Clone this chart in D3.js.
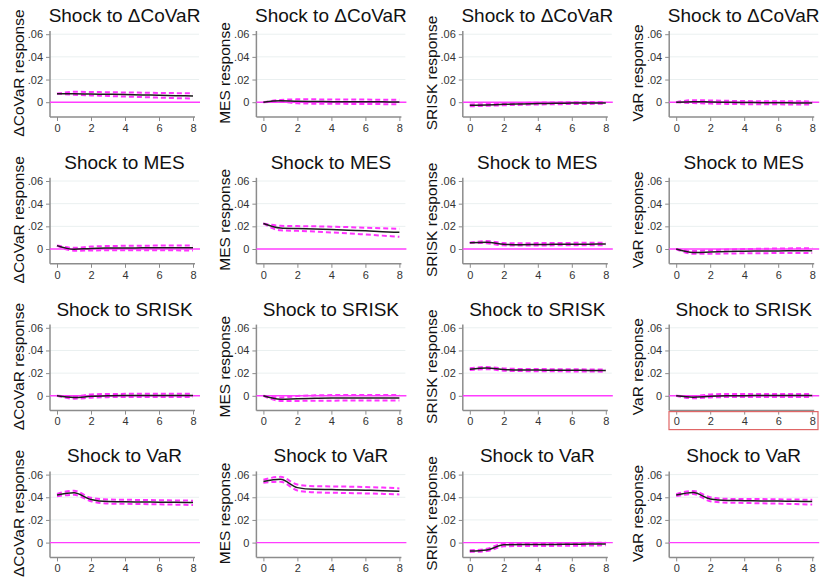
<!DOCTYPE html>
<html>
<head>
<meta charset="utf-8">
<script src="https://cdn.jsdelivr.net/npm/d3@7"></script>
<style>
  html, body { margin: 0; padding: 0; background: #ffffff; }
  svg { display: block; }
</style>
</head>
<body>
<svg id="chart" width="824" height="581"></svg>
<script>
// Impulse-response grid: rows are the shocked variable, columns the responding one.
const shockNames = ["ΔCoVaR", "MES", "SRISK", "VaR"];
const responseNames = ["ΔCoVaR", "MES", "SRISK", "VaR"];
const steps = [0, 1, 2, 3, 4, 5, 6, 7, 8];
const xTicks = [0, 2, 4, 6, 8];
const yTicks = [0, 0.02, 0.04, 0.06];
const yTickLabels = ["0", ".02", ".04", ".06"];

// Shock to ΔCoVaR: responses of ΔCoVaR, MES, SRISK, VaR
const irfCoVaR = [
  [0.0075, 0.0075, 0.0072, 0.0070, 0.0067, 0.0064, 0.0061, 0.0058, 0.0055],
  [0, 0.0012, 0.0008, 0.0006, 0.0005, 0.0004, 0.0003, 0.0003, 0.0002],
  [-0.0028, -0.0024, -0.0019, -0.0015, -0.0012, -0.0010, -0.0008, -0.0007, -0.0006],
  [0, 0.0005, 0.0002, -0.0001, -0.0003, -0.0004, -0.0005, -0.0006, -0.0007]
];
const loCoVaR = [
  [0.0075, 0.0065, 0.0060, 0.0055, 0.0050, 0.0045, 0.0040, 0.0036, 0.0032],
  [0, 0.0003, -0.0010, -0.0013, -0.0014, -0.0015, -0.0016, -0.0017, -0.0018],
  [-0.0036, -0.0032, -0.0027, -0.0023, -0.0020, -0.0018, -0.0016, -0.0015, -0.0014],
  [0, -0.0008, -0.0012, -0.0015, -0.0017, -0.0018, -0.0019, -0.0020, -0.0021]
];
const hiCoVaR = [
  [0.0075, 0.0092, 0.0090, 0.0088, 0.0086, 0.0084, 0.0082, 0.0080, 0.0078],
  [0, 0.0020, 0.0025, 0.0025, 0.0024, 0.0023, 0.0023, 0.0022, 0.0022],
  [-0.0020, -0.0016, -0.0011, -0.0007, -0.0004, -0.0002, 0.0000, 0.0001, 0.0002],
  [0, 0.0018, 0.0015, 0.0012, 0.0010, 0.0009, 0.0008, 0.0008, 0.0007]
];

// Shock to MES
const irfMES = [
  [0.0030, -0.0003, 0.0005, 0.0008, 0.0009, 0.0010, 0.0010, 0.0010, 0.0010],
  [0.0225, 0.0185, 0.0180, 0.0177, 0.0172, 0.0166, 0.0160, 0.0153, 0.0147],
  [0.0055, 0.0060, 0.0042, 0.0038, 0.0040, 0.0041, 0.0042, 0.0043, 0.0044],
  [0, -0.0030, -0.0027, -0.0023, -0.0020, -0.0018, -0.0017, -0.0016, -0.0015]
];
const loMES = [
  [0.0030, -0.0015, -0.0013, -0.0011, -0.0010, -0.0010, -0.0011, -0.0012, -0.0013],
  [0.0225, 0.0165, 0.0160, 0.0154, 0.0146, 0.0138, 0.0128, 0.0118, 0.0108],
  [0.0055, 0.0050, 0.0032, 0.0030, 0.0031, 0.0032, 0.0033, 0.0033, 0.0034],
  [0, -0.0042, -0.0042, -0.0040, -0.0038, -0.0037, -0.0036, -0.0036, -0.0036]
];
const hiMES = [
  [0.0030, 0.0010, 0.0022, 0.0026, 0.0028, 0.0029, 0.0030, 0.0030, 0.0030],
  [0.0225, 0.0205, 0.0202, 0.0200, 0.0197, 0.0193, 0.0188, 0.0183, 0.0178],
  [0.0055, 0.0070, 0.0052, 0.0050, 0.0052, 0.0053, 0.0054, 0.0055, 0.0056],
  [0, -0.0018, -0.0012, -0.0005, -0.0001, 0.0002, 0.0004, 0.0006, 0.0008]
];

// Shock to SRISK
const irfSRISK = [
  [0, -0.0015, -0.0005, 0.0000, 0.0002, 0.0003, 0.0003, 0.0003, 0.0003],
  [0, -0.0030, -0.0025, -0.0022, -0.0020, -0.0020, -0.0020, -0.0020, -0.0020],
  [0.0235, 0.0245, 0.0232, 0.0228, 0.0227, 0.0226, 0.0225, 0.0224, 0.0223],
  [0, -0.0012, -0.0004, 0.0000, 0.0001, 0.0002, 0.0002, 0.0002, 0.0002]
];
const loSRISK = [
  [0, -0.0025, -0.0017, -0.0012, -0.0010, -0.0010, -0.0010, -0.0011, -0.0011],
  [0, -0.0045, -0.0045, -0.0043, -0.0043, -0.0042, -0.0042, -0.0042, -0.0042],
  [0.0227, 0.0235, 0.0222, 0.0218, 0.0217, 0.0216, 0.0215, 0.0214, 0.0213],
  [0, -0.0022, -0.0014, -0.0011, -0.0010, -0.0010, -0.0010, -0.0010, -0.0010]
];
const hiSRISK = [
  [0, -0.0005, 0.0012, 0.0016, 0.0017, 0.0017, 0.0017, 0.0017, 0.0017],
  [0, -0.0015, -0.0002, 0.0004, 0.0006, 0.0007, 0.0007, 0.0007, 0.0007],
  [0.0243, 0.0254, 0.0241, 0.0237, 0.0236, 0.0235, 0.0234, 0.0233, 0.0232],
  [0, -0.0003, 0.0012, 0.0016, 0.0016, 0.0016, 0.0016, 0.0016, 0.0016]
];

// Shock to VaR
const irfVaR = [
  [0.0420, 0.0440, 0.0380, 0.0362, 0.0360, 0.0358, 0.0357, 0.0355, 0.0354],
  [0.0540, 0.0558, 0.0485, 0.0470, 0.0468, 0.0465, 0.0462, 0.0458, 0.0452],
  [-0.0075, -0.0065, -0.0020, -0.0017, -0.0017, -0.0016, -0.0015, -0.0013, -0.0012],
  [0.0420, 0.0442, 0.0385, 0.0372, 0.0370, 0.0368, 0.0366, 0.0364, 0.0362]
];
const loVaR = [
  [0.0410, 0.0422, 0.0365, 0.0344, 0.0342, 0.0340, 0.0338, 0.0335, 0.0332],
  [0.0527, 0.0538, 0.0460, 0.0443, 0.0440, 0.0437, 0.0434, 0.0430, 0.0425],
  [-0.0082, -0.0075, -0.0033, -0.0030, -0.0030, -0.0029, -0.0028, -0.0026, -0.0024],
  [0.0412, 0.0428, 0.0365, 0.0352, 0.0350, 0.0347, 0.0344, 0.0340, 0.0336]
];
const hiVaR = [
  [0.0430, 0.0458, 0.0395, 0.0380, 0.0378, 0.0376, 0.0374, 0.0372, 0.0370],
  [0.0555, 0.0580, 0.0512, 0.0497, 0.0496, 0.0494, 0.0490, 0.0486, 0.0478],
  [-0.0068, -0.0055, -0.0005, -0.0003, -0.0004, -0.0004, -0.0003, -0.0002, -0.0001],
  [0.0428, 0.0456, 0.0400, 0.0386, 0.0385, 0.0384, 0.0382, 0.0380, 0.0378]
];

const irfRows = [irfCoVaR, irfMES, irfSRISK, irfVaR];
const loRows = [loCoVaR, loMES, loSRISK, loVaR];
const hiRows = [hiCoVaR, hiMES, hiSRISK, hiVaR];

// Layout of one cell of the grid
const cellW = 206.4, cellH = 146.8;
const plotLeft = 50, plotRight = 199, plotTop = 31, plotBottom = 117;
const font = "'Liberation Sans', Arial, sans-serif";

const svg = d3.select("#chart");

const x = d3.scaleLinear().domain([0, 8]).range([57, 193]);
const y = d3.scaleLinear().domain([0, 0.06]).range([102.2, 34.2]);

const line = d3.line()
  .x((d, i) => x(steps[i]))
  .y(d => y(d))
  .curve(d3.curveMonotoneX);

for (let r = 0; r < 4; r++) {
  for (let c = 0; c < 4; c++) {
    const g = svg.append("g")
      .attr("transform", `translate(${c * cellW},${r * cellH})`);

    // horizontal gridlines
    g.selectAll("line.grid")
      .data(yTicks.filter(t => t !== 0))
      .join("line")
      .attr("class", "grid")
      .attr("x1", plotLeft).attr("x2", plotRight)
      .attr("y1", d => y(d)).attr("y2", d => y(d))
      .attr("stroke", "#eaf0f0").attr("stroke-width", 1);

    // y axis
    const yAxis = d3.axisLeft(y)
      .tickValues(yTicks)
      .tickFormat((d, i) => yTickLabels[i])
      .tickSize(4)
      .tickPadding(3);
    const ya = g.append("g")
      .attr("transform", `translate(${plotLeft},0)`)
      .call(yAxis);
    ya.select(".domain").remove();
    ya.append("line")
      .attr("x1", 0).attr("x2", 0)
      .attr("y1", plotTop).attr("y2", plotBottom)
      .attr("stroke", "#8c8c8c").attr("stroke-width", 1.5);
    ya.selectAll(".tick line").attr("stroke", "#8c8c8c");
    ya.selectAll(".tick text")
      .attr("font-family", font).attr("font-size", 11).attr("fill", "#333");

    // x axis
    const xAxis = d3.axisBottom(x)
      .tickValues(xTicks)
      .tickFormat(d3.format("d"))
      .tickSize(4)
      .tickPadding(3);
    const xa = g.append("g")
      .attr("transform", `translate(0,${plotBottom})`)
      .call(xAxis);
    xa.select(".domain").remove();
    xa.append("line")
      .attr("x1", plotLeft).attr("x2", 195)
      .attr("y1", 0).attr("y2", 0)
      .attr("stroke", "#8c8c8c").attr("stroke-width", 1.5);
    xa.selectAll(".tick line").attr("stroke", "#8c8c8c");
    xa.selectAll(".tick text")
      .attr("font-family", font).attr("font-size", 11).attr("fill", "#333");

    // zero reference line
    g.append("line")
      .attr("x1", plotLeft).attr("x2", plotRight + 1)
      .attr("y1", y(0)).attr("y2", y(0))
      .attr("stroke", "#ff3cff").attr("stroke-width", 1.4);

    // confidence bands
    [loRows[r][c], hiRows[r][c]].forEach(band => {
      g.append("path")
        .datum(band)
        .attr("d", line)
        .attr("fill", "none")
        .attr("stroke", "#ff33ff")
        .attr("stroke-width", 2)
        .attr("stroke-dasharray", "5,3");
    });

    // impulse response
    g.append("path")
      .datum(irfRows[r][c])
      .attr("d", line)
      .attr("fill", "none")
      .attr("stroke", "#1c1c1c")
      .attr("stroke-width", 1.5);

    // title
    g.append("text")
      .attr("x", (plotLeft + plotRight) / 2)
      .attr("y", 22)
      .attr("text-anchor", "middle")
      .attr("font-family", font)
      .attr("font-size", 19)
      .attr("fill", "#111")
      .text(`Shock to ${shockNames[r]}`);

    // y axis title
    g.append("text")
      .attr("transform", `translate(24,${(plotTop + plotBottom) / 2 - 1}) rotate(-90)`)
      .attr("text-anchor", "middle")
      .attr("font-family", font)
      .attr("font-size", 15.5)
      .attr("fill", "#111")
      .text(`${responseNames[c]} response`);

    // highlighted x axis in the SRISK → VaR cell
    if (r === 2 && c === 3) {
      g.append("rect")
        .attr("x", 49.8).attr("y", 118)
        .attr("width", 149).attr("height", 18)
        .attr("fill", "none")
        .attr("stroke", "#e06666")
        .attr("stroke-width", 1.2);
    }
  }
}
</script>
</body>
</html>
